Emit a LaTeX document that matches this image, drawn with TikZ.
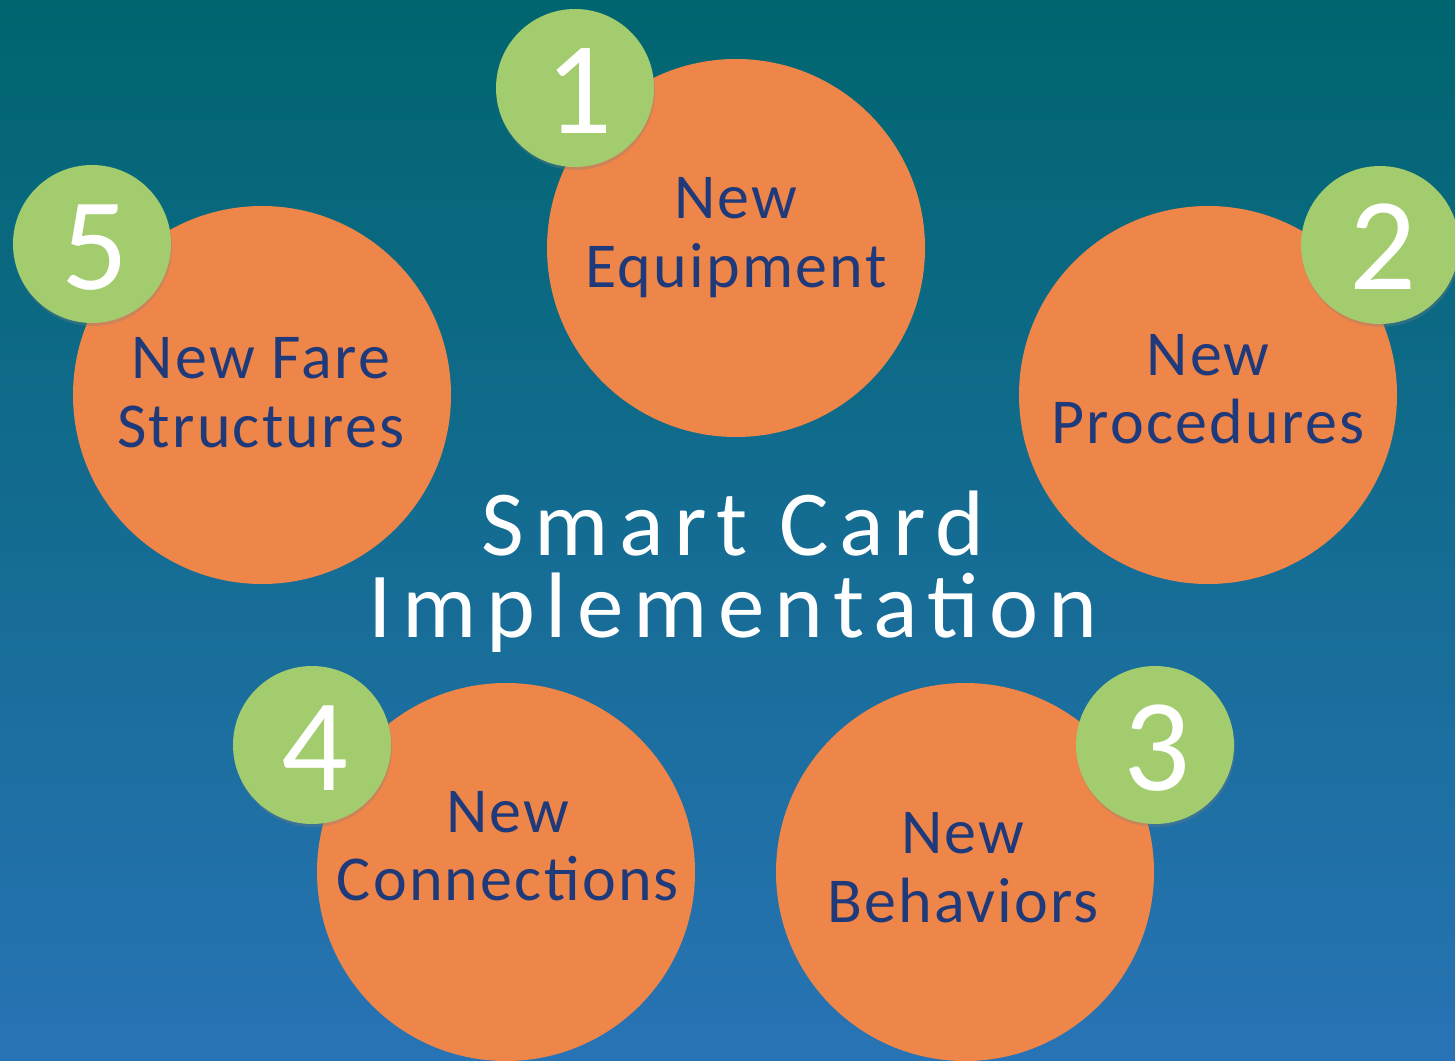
\documentclass[tikz,border=0pt]{standalone}
\usepackage{fontspec}
\setmainfont{Carlito}
\usetikzlibrary{shadows}
\definecolor{bgtop}{HTML}{00656F}
\definecolor{bgmid}{HTML}{03708F}
\definecolor{bgbot}{HTML}{2873B5}
\definecolor{orangec}{HTML}{EE8549}
\definecolor{greenc}{HTML}{A2CC6E}
\definecolor{txtblue}{HTML}{1F3A7A}
\begin{document}
\begin{tikzpicture}[x=1pt,y=-1pt,
 bigcirc/.style={circle, fill=orangec, minimum size=378pt, inner sep=0pt},
 badge/.style={circle, fill=greenc, minimum size=158pt, inner sep=0pt,
   drop shadow={opacity=0.3, shadow xshift=1pt, shadow yshift=-3pt}},
 numtxt/.style={text=white, inner sep=0pt, font=\fontsize{132}{132}\selectfont},
 itemtxt/.style={text=txtblue, anchor=base, inner sep=0pt,
   font=\fontsize{64}{64}\selectfont\addfontfeatures{LetterSpace=3.5}},
 titletxt/.style={text=white, anchor=base, inner sep=0pt, align=center,
   font=\fontsize{93}{82}\selectfont\addfontfeatures{LetterSpace=11}}]
\useasboundingbox (0,0) rectangle (1455,1060);
\shade[top color=bgtop, middle color=bgmid, bottom color=bgbot] (0,0) rectangle (1455,1060);

% orange circles
\node[bigcirc] (c1) at (736,248) {};
\node[bigcirc] (c2) at (1208,395) {};
\node[bigcirc] (c3) at (965,872) {};
\node[bigcirc] (c4) at (506,872) {};
\node[bigcirc] (c5) at (262,395) {};

% texts
\node[itemtxt] (t1a) at (736,218) {New};
\node[itemtxt] (t1b) at (736,287) {Equipment};
\node[itemtxt] (t2a) at (1208,375) {New};
\node[itemtxt] (t2b) at (1208,443) {Procedures};
\node[itemtxt] (t3a) at (963,853) {New};
\node[itemtxt] (t3b) at (963,922) {Behaviors};
\node[itemtxt] (t4a) at (508,832) {New};
\node[itemtxt] (t4b) at (508,900) {Connections};
\node[itemtxt] (t5a) at (261,378) {New Fare};
\node[itemtxt] (t5b) at (261,447) {Structures};

% green badges
\node[badge] (b1) at (575,88) {};
\node[badge] (b2) at (1380,245) {};
\node[badge] (b3) at (1155,745) {};
\node[badge] (b4) at (312,745) {};
\node[badge] (b5) at (92,244) {};

\node[numtxt] (n1) at (579,91) {1};
\node[numtxt] (n2) at (1383,247) {2};
\node[numtxt] (n3) at (1157,748) {3};
\node[numtxt] (n4) at (315,748) {4};
\node[numtxt] (n5) at (95,248) {5};

% title
\node[titletxt] (title) at (733,637) {Smart Card\\Implementation};
\end{tikzpicture}
\end{document}
